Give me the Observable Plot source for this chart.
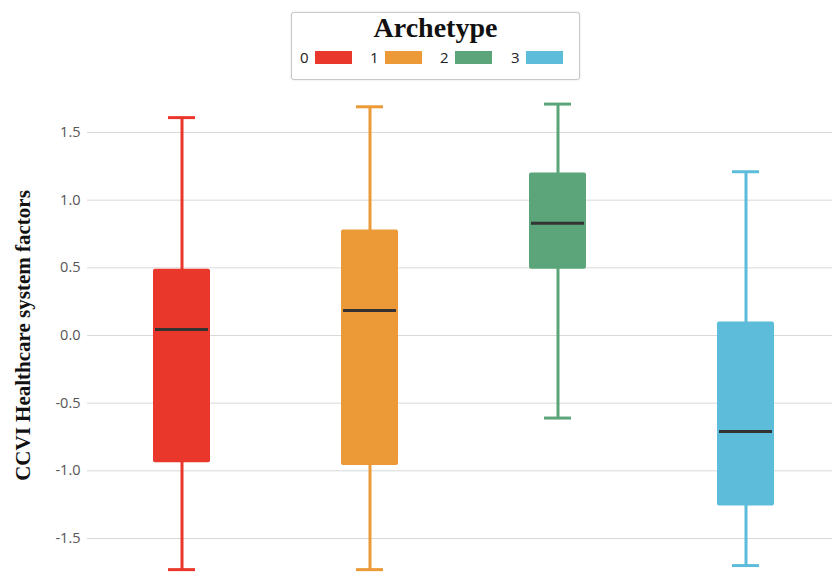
<!DOCTYPE html>
<html>
<head>
<meta charset="utf-8">
<script src="https://cdn.jsdelivr.net/npm/d3@7"></script>
<script src="https://cdn.jsdelivr.net/npm/@observablehq/plot@0.6"></script>
<style>
  html, body { margin: 0; padding: 0; background: #fff; }
  #wrap { position: relative; width: 832px; height: 587px; overflow: hidden; }
  #legend {
    position: absolute; left: 291px; top: 12px; width: 287px; height: 66px;
    border: 1px solid #c8c8c8; border-radius: 3px; box-shadow: 0 0 2px rgba(0,0,0,0.15);
    background: #fff; font-family: "Open Sans", "Liberation Sans", sans-serif;
  }
  #legend .title { position: absolute; left: 0; right: 0; top: -1px; text-align: center;
    font: bold 28px "Liberation Serif", "DejaVu Serif", serif; color: #111; }
  #legend .item { position: absolute; top: 35px; height: 18px; display: flex; align-items: center; font-size: 15px; color: #222; }
  #legend .sw { display: inline-block; width: 37px; height: 13px; margin-left: 6px; }
  #chart { position: absolute; left: 0; top: 88px; }
  g[aria-label="y-axis label"] text { font: bold 21px "Liberation Serif", "DejaVu Serif", serif; fill: #111; }
  g[aria-label="y-axis tick label"] text { font-size: 14.5px; fill: #555; }
</style>
</head>
<body>
<div id="wrap">
  <div id="legend"><div class="title">Archetype</div></div>
  <div id="chart"></div>
</div>
<script>
const archetypes = ["0", "1", "2", "3"];
const colors = ["#ea372c", "#ec9a38", "#5ca57a", "#5cbcd9"];
const whiskerLow  = [-1.73, -1.73, -0.61, -1.70];
const q1          = [-0.94, -0.96,  0.49, -1.26];
const median      = [ 0.045, 0.185, 0.83, -0.71];
const q3          = [ 0.49,  0.78,  1.20,  0.10];
const whiskerHigh = [ 1.61,  1.69,  1.71,  1.21];
const yTicks = [-1.5, -1.0, -0.5, 0.0, 0.5, 1.0, 1.5];
const legendX = [8, 78, 148, 219];

const data = archetypes.map((a, i) => ({
  a, lo: whiskerLow[i], q1: q1[i], med: median[i], q3: q3[i], hi: whiskerHigh[i]
}));

// legend
const legend = document.getElementById("legend");
archetypes.forEach((a, i) => {
  const it = document.createElement("div");
  it.className = "item";
  it.style.left = legendX[i] + "px";
  it.innerHTML = `<span>${a}</span><span class="sw" style="background:${colors[i]}"></span>`;
  legend.appendChild(it);
});

const color = {domain: archetypes, range: colors};

const plot = Plot.plot({
  width: 832,
  height: 499,
  marginTop: 3.4,
  marginBottom: 8.4,
  marginLeft: 87,
  marginRight: 0,
  style: {fontFamily: "'Open Sans', 'Liberation Sans', sans-serif", background: "transparent"},
  x: {domain: archetypes, paddingInner: 0.697, paddingOuter: 0.327, align: 0.53, axis: null},
  y: {domain: [-1.8, 1.8]},
  color,
  marks: [
    Plot.gridY(yTicks, {stroke: "#d9d9d9", strokeOpacity: 1, strokeWidth: 1}),
    Plot.axisY(yTicks, {
      tickSize: 0, tickPadding: 7,
      tickFormat: d => d.toFixed(1),
      label: "CCVI Healthcare system factors",
      labelAnchor: "center", labelArrow: "none", labelOffset: 72
    }),
    Plot.ruleX(data, {x: "a", y1: "lo", y2: "hi", stroke: "a", strokeWidth: 3}),
    Plot.tickY(data, {x: "a", y: "lo", stroke: "a", strokeWidth: 3, insetLeft: 15, insetRight: 15}),
    Plot.tickY(data, {x: "a", y: "hi", stroke: "a", strokeWidth: 3, insetLeft: 15, insetRight: 15}),
    Plot.barY(data, {x: "a", y1: "q1", y2: "q3", fill: "a", rx: 2}),
    Plot.tickY(data, {x: "a", y: "med", stroke: "#333", strokeWidth: 3, insetLeft: 2, insetRight: 2})
  ]
});
document.getElementById("chart").appendChild(plot);
</script>
</body>
</html>
